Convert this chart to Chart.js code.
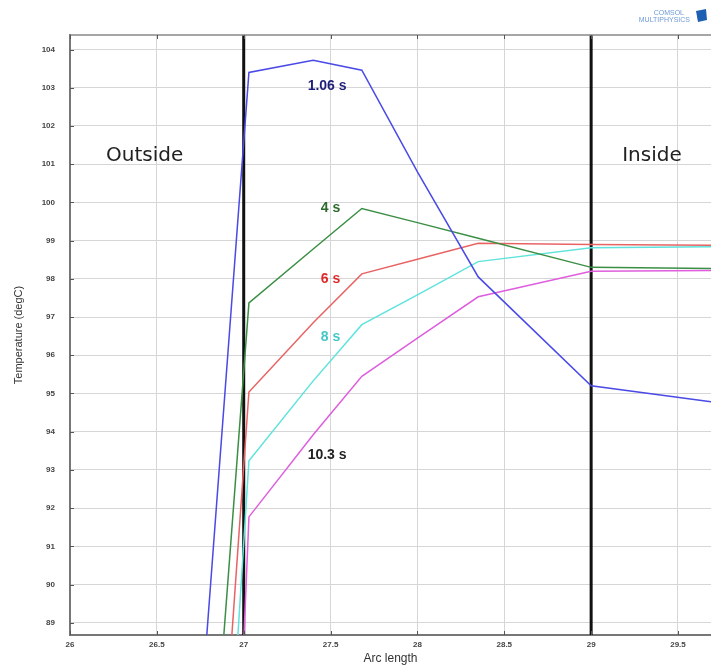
<!DOCTYPE html>
<html>
<head>
<meta charset="utf-8">
<title>Temperature along arc length</title>
<script src="https://cdn.jsdelivr.net/npm/chart.js@4.4.1/dist/chart.umd.min.js"></script>
<style>
  html, body { margin: 0; padding: 0; background: #fff; }
  canvas { display: block; }
</style>
</head>
<body>
<canvas id="chart" width="711" height="666"></canvas>
<script>
// Temperature profiles across the boundary at several times

// arc length nodes (shared by all series)
const arcX = [26.6, 27.03, 27.4, 27.68, 28.0, 28.35, 29.0, 29.69];

// temperature (degC) at each node
const temp106 = [77.3, 103.40, 103.72, 103.46, 100.8, 98.05, 95.2, 94.78];
const temp4   = [71.5, 97.37, 98.78, 99.84, 99.47, 99.06, 98.3, 98.27];
const temp6   = [67.2, 95.04, 96.85, 98.13, 98.51, 98.93, 98.9, 98.88];
const temp8   = [62.3, 93.24, 95.33, 96.80, 97.58, 98.45, 98.81, 98.84];
const temp103 = [44.5, 91.77, 93.92, 95.45, 96.45, 97.53, 98.2, 98.22];

const seriesNames = ['1.06 s', '4 s', '6 s', '8 s', '10.3 s'];
const seriesColors = ['#4a4ae6', '#3b8f45', '#e86464', '#5fe3dc', '#de5ede'];

// axis ranges and ticks
const xRange = [26, 29.69];
const yRange = [88.68, 104.38];
const xTicks = [26, 26.5, 27, 27.5, 28, 28.5, 29, 29.5];
const yTicks = [89, 90, 91, 92, 93, 94, 95, 96, 97, 98, 99, 100, 101, 102, 103, 104];

// domain boundaries (thick black lines)
const boundaries = [27, 29];

// text labels placed in data coordinates
const labelText = ['1.06 s', '4 s', '6 s', '8 s', '10.3 s', 'Outside', 'Inside'];
const labelX = [27.48, 27.50, 27.50, 27.50, 27.48, 26.43, 29.35];
const labelY = [103.05, 99.86, 98.0, 96.48, 93.38, 101.21, 101.21];
const labelColor = ['#1f1f7a', '#2a6a2a', '#e02a2a', '#45c6c6', '#222', '#222', '#222'];

function toPoints(ys) {
    return arcX.map(function(x, i) { return { x: x, y: ys[i] }; });
}

const allTemps = [temp106, temp4, temp6, temp8, temp103];

const datasets = allTemps.map(function(ys, i) {
    return {
        label: seriesNames[i],
        data: toPoints(ys),
        borderColor: seriesColors[i],
        borderWidth: 1.5,
        pointRadius: 0,
        tension: 0,
        fill: false
    };
});

boundaries.forEach(function(b) {
    datasets.push({
        label: 'boundary ' + b,
        data: [{ x: b, y: yRange[0] }, { x: b, y: yRange[1] }],
        borderColor: '#111',
        borderWidth: 3,
        pointRadius: 0,
        fill: false
    });
});

// text, frame, inward ticks and logo
const decorPlugin = {
    id: 'decor',
    afterDatasetsDraw: function(chart) {
        const ctx = chart.ctx;
        const xs = chart.scales.x;
        const ys = chart.scales.y;
        const area = chart.chartArea;

        ctx.save();
        // top frame
        ctx.strokeStyle = '#888';
        ctx.lineWidth = 1.5;
        ctx.beginPath();
        ctx.moveTo(area.left, area.top);
        ctx.lineTo(area.right, area.top);
        ctx.stroke();

        // inward tick marks
        ctx.strokeStyle = '#555';
        ctx.lineWidth = 1;
        ctx.beginPath();
        xTicks.forEach(function(v) {
            const px = Math.round(xs.getPixelForValue(v)) + 0.5;
            ctx.moveTo(px, area.bottom);
            ctx.lineTo(px, area.bottom - 4);
            ctx.moveTo(px, area.top);
            ctx.lineTo(px, area.top + 4);
        });
        yTicks.forEach(function(v) {
            const py = Math.round(ys.getPixelForValue(v)) + 0.5;
            ctx.moveTo(area.left, py);
            ctx.lineTo(area.left + 4, py);
        });
        ctx.stroke();

        // labels
        ctx.textAlign = 'center';
        ctx.textBaseline = 'middle';
        labelText.forEach(function(t, i) {
            const big = t === 'Outside' || t === 'Inside';
            ctx.font = big ? '20px "DejaVu Sans"' : 'bold 14px "Liberation Sans", Arial';
            ctx.fillStyle = labelColor[i];
            ctx.fillText(t, xs.getPixelForValue(labelX[i]), ys.getPixelForValue(labelY[i]));
        });

        // logo
        ctx.fillStyle = '#6d9ad6';
        ctx.font = '7px "Liberation Sans", Arial';
        ctx.textAlign = 'right';
        ctx.fillText('COMSOL', 684, 13);
        ctx.fillText('MULTIPHYSICS', 690, 20);
        ctx.fillStyle = '#1d5fb0';
        ctx.beginPath();
        ctx.moveTo(696, 11);
        ctx.lineTo(706, 9);
        ctx.lineTo(707, 20);
        ctx.lineTo(698, 22);
        ctx.closePath();
        ctx.fill();
        ctx.restore();
    }
};

const ctx = document.getElementById('chart').getContext('2d');
new Chart(ctx, {
    type: 'line',
    data: { datasets: datasets },
    options: {
        responsive: false,
        animation: false,
        events: [],
        layout: { padding: { top: 35, right: 0, left: 0, bottom: 0 } },
        plugins: {
            legend: { display: false },
            tooltip: { enabled: false }
        },
        scales: {
            x: {
                type: 'linear',
                min: xRange[0],
                max: xRange[1],
                afterBuildTicks: function(s) {
                    s.ticks = xTicks.map(function(v) { return { value: v }; });
                },
                afterFit: function(s) { s.height = 31; },
                grid: { color: '#d6d6d6', lineWidth: 1, drawTicks: false },
                border: { display: true, color: '#777', width: 2 },
                ticks: {
                    autoSkip: false,
                    maxRotation: 0,
                    padding: 5,
                    color: '#444',
                    font: { family: '"Liberation Sans", Arial', size: 8, weight: 'bold' },
                    callback: function(v) { return String(v); }
                },
                title: {
                    display: true,
                    text: 'Arc length',
                    color: '#333',
                    padding: { top: 0, bottom: 0 },
                    font: { family: '"Liberation Sans", Arial', size: 12 }
                }
            },
            y: {
                type: 'linear',
                min: yRange[0],
                max: yRange[1],
                afterBuildTicks: function(s) {
                    s.ticks = yTicks.map(function(v) { return { value: v }; });
                },
                afterFit: function(s) { s.width = 70; },
                grid: { color: '#d6d6d6', lineWidth: 1, drawTicks: false },
                border: { display: true, color: '#777', width: 2 },
                ticks: {
                    padding: 15,
                    color: '#444',
                    font: { family: '"Liberation Sans", Arial', size: 8, weight: 'bold' },
                    callback: function(v) { return String(v); }
                },
                title: {
                    display: true,
                    text: 'Temperature (degC)',
                    color: '#333',
                    padding: { top: 12, bottom: 0 },
                    font: { family: '"Liberation Sans", Arial', size: 11 }
                }
            }
        }
    },
    plugins: [decorPlugin]
});
</script>
</body>
</html>
